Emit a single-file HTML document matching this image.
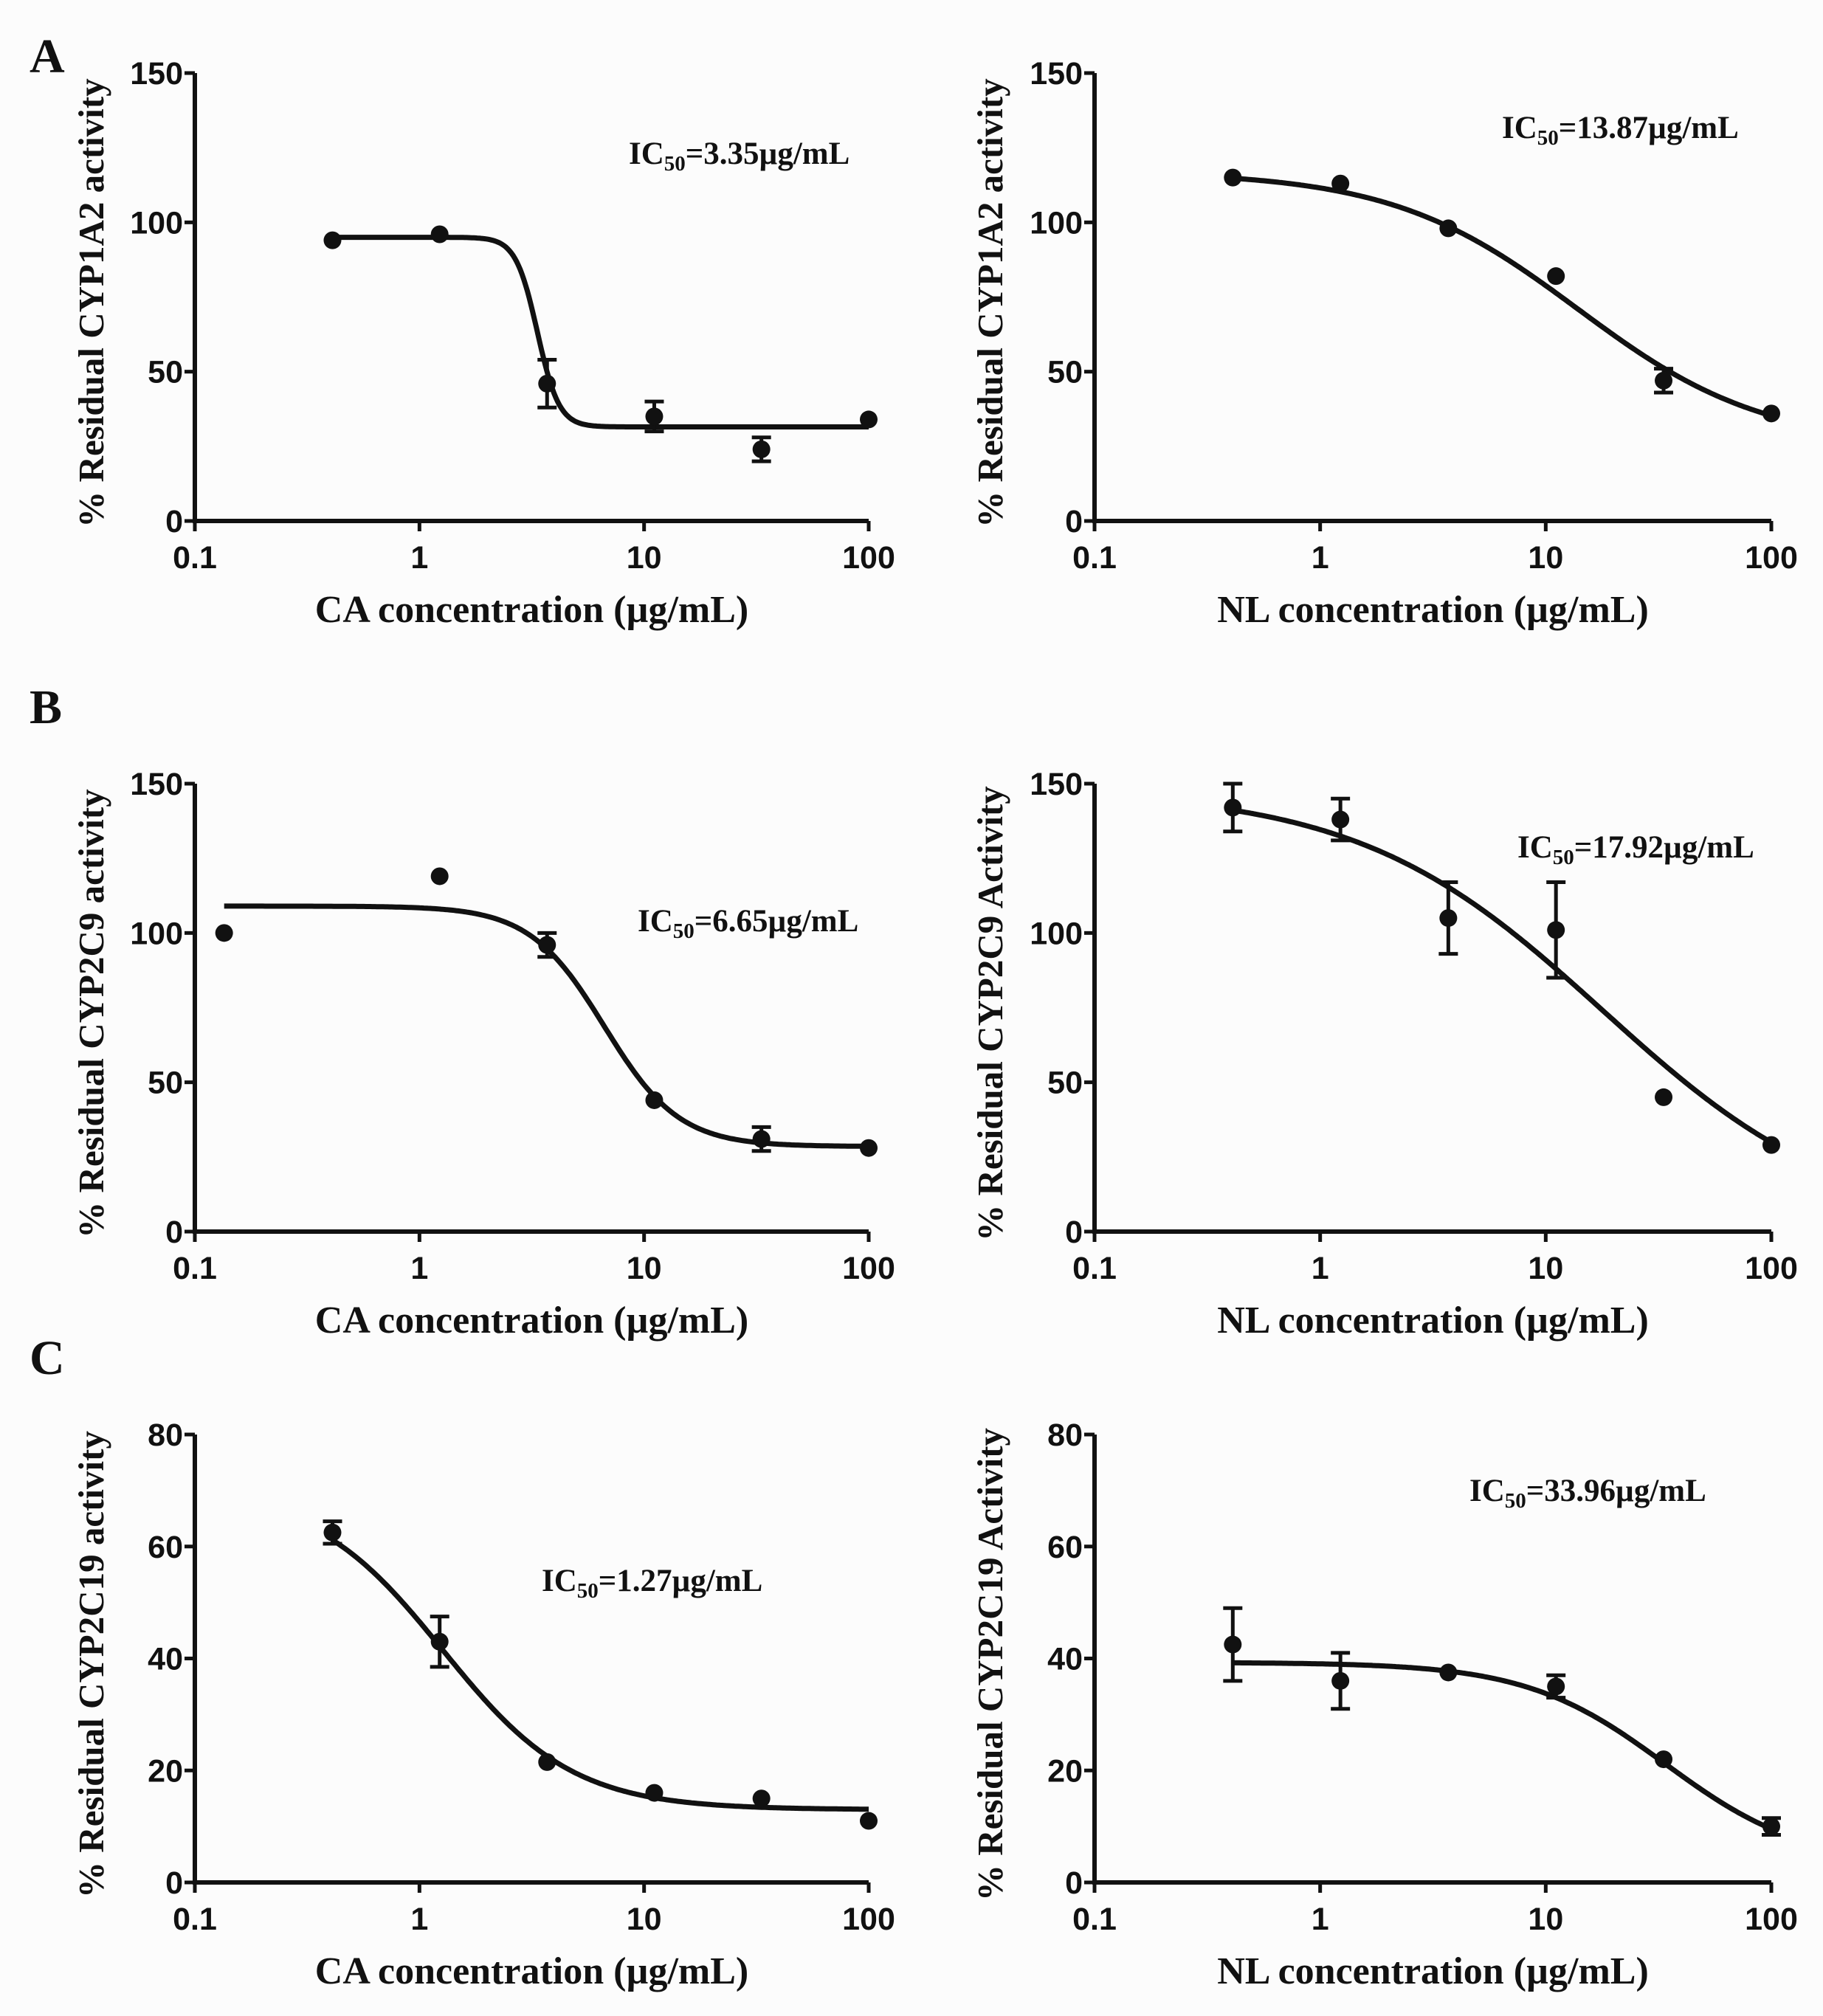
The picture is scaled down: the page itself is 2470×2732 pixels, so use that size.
<!DOCTYPE html>
<html><head><meta charset="utf-8"><style>
html,body{margin:0;padding:0;background:#fff}
svg{display:block}
text{fill:#111}
.tick{font-family:"Liberation Sans",sans-serif;font-weight:bold;font-size:43px}
.ttl{font-family:"Liberation Serif",serif;font-weight:bold;font-size:52px}
.ytl{font-family:"Liberation Serif",serif;font-weight:bold;font-size:49px}
.ic{font-family:"Liberation Serif",serif;font-weight:bold;font-size:43px}
.let{font-family:"Liberation Serif",serif;font-weight:bold;font-size:66px}
</style></head><body>
<svg id="fig" width="2470" height="2732" viewBox="0 0 2470 2732" xmlns="http://www.w3.org/2000/svg">
<rect width="2470" height="2732" fill="#fcfcfc"/>
</svg>
<script>
// ---- data ----
const xConc = [0.41, 1.23, 3.7, 11.1, 33.3, 100];
const xConcB1 = [0.135, 1.23, 3.7, 11.1, 33.3, 100];
const yA1 = [94, 96, 46, 35, 24, 34];
const eA1 = [0, 0, 8, 5, 4, 0];
const yA2 = [115, 113, 98, 82, 47, 36];
const eA2 = [0, 0, 0, 0, 4, 0];
const yB1 = [100, 119, 96, 44, 31, 28];
const eB1 = [0, 0, 4, 0, 4, 0];
const yB2 = [142, 138, 105, 101, 45, 29];
const eB2 = [8, 7, 12, 16, 0, 0];
const yC1 = [62.5, 43, 21.5, 16, 15, 11];
const eC1 = [2, 4.5, 0, 0, 0, 0];
const yC2 = [42.5, 36, 37.5, 35, 22, 10];
const eC2 = [6.5, 5, 0, 2, 0, 1.5];
// fit params: [top, bottom, ic50, hill]
const fitA1 = [95, 31.5, 3.35, 9];
const fitA2 = [117, 25, 13.87, 1.05];
const fitB1 = [109, 28.5, 6.65, 2.6];
const fitB2 = [148, 0, 17.92, 0.8];
const fitC1 = [70, 13, 1.27, 1.5];
const fitC2 = [39.3, 3, 33.96, 1.4];
const xTicks = [0.1, 1, 10, 100];
const xTickLabels = ["0.1", "1", "10", "100"];
const yTicks150 = [0, 50, 100, 150];
const yTicks80 = [0, 20, 40, 60, 80];

const NS = "http://www.w3.org/2000/svg";
const svg = document.getElementById("fig");
function el(tag, attrs, parent, txt) {
  const e = document.createElementNS(NS, tag);
  for (const k in attrs) e.setAttribute(k, attrs[k]);
  if (txt !== undefined) e.textContent = txt;
  (parent || svg).appendChild(e);
  return e;
}
function panel(cfg) {
  const g = el("g", {});
  
  
  const L = cfg.x0, R = cfg.x1, T = cfg.yTop, B = cfg.yBot;
  const sx = v => L + (Math.log10(v) + 1) / 3 * (R - L);
  const sy = v => B - v / cfg.ymax * (B - T);
  const ax = el("path", {d: `M${L} ${T} L${L} ${B} L${R} ${B}`, stroke: "#111", "stroke-width": 6, fill: "none"}, g);
  
  
  cfg.yticks.forEach(v => {
    el("line", {x1: L - 14, x2: L, y1: sy(v), y2: sy(v), stroke: "#111", "stroke-width": 5}, g);
    const t = el("text", {x: L - 16, y: sy(v) + 15, "text-anchor": "end", class: "tick"}, g, String(v));
    
    
  });
  xTicks.forEach((v, i) => {
    el("line", {x1: sx(v), x2: sx(v), y1: B, y2: B + 14, stroke: "#111", "stroke-width": 5}, g);
    const t = el("text", {x: sx(v), y: B + 64, "text-anchor": "middle", class: "tick"}, g, xTickLabels[i]);
    
    
  });
  const xt = el("text", {x: (L + R) / 2, y: B + 137, "text-anchor": "middle", class: "ttl"}, g, cfg.xtitle);
  
  
  const yt = el("text", {transform: `translate(${cfg.ytx},${(T + B) / 2 + 8}) rotate(-90)`, "text-anchor": "middle", class: "ytl"}, g, cfg.ytitle);
  
  
  const ic = el("text", {x: cfg.icx, y: cfg.icy, class: "ic"}, g);
  
  
  el("tspan", {}, ic, "IC");
  el("tspan", {"font-size": "29px", dy: 9}, ic, "50");
  el("tspan", {dy: -9}, ic, cfg.ic);
  const [top, bot, ic50, h] = cfg.fit;
  const xs = cfg.xs;
  const lo = Math.log10(xs[0]), hi = Math.log10(xs[xs.length - 1]);
  let d = "";
  for (let i = 0; i <= 300; i++) {
    const lx = lo + (hi - lo) * i / 300, x = Math.pow(10, lx);
    const y = bot + (top - bot) / (1 + Math.pow(x / ic50, h));
    d += (i ? "L" : "M") + sx(x).toFixed(1) + " " + sy(y).toFixed(1);
  }
  const c = el("path", {d, stroke: "#111", "stroke-width": 7, fill: "none"}, g);
  
  
  xs.forEach((x, i) => {
    const px = sx(x), py = sy(cfg.ys[i]), e = cfg.es[i];
    if (e > 0) {
      const eb = el("path", {d: `M${px} ${sy(cfg.ys[i] + e)} L${px} ${sy(cfg.ys[i] - e)} M${px - 13} ${sy(cfg.ys[i] + e)} L${px + 13} ${sy(cfg.ys[i] + e)} M${px - 13} ${sy(cfg.ys[i] - e)} L${px + 13} ${sy(cfg.ys[i] - e)}`, stroke: "#111", "stroke-width": 5, fill: "none"}, g);
      
      
    }
    const p = el("circle", {cx: px, cy: py, r: 12, fill: "#111"}, g);
    
    
  });
}
const LX0 = 264, LX1 = 1177, RX0 = 1483, RX1 = 2400;
panel({name: "panel-a-ca", x0: LX0, x1: LX1, yTop: 99, yBot: 706, ymax: 150, yticks: yTicks150, xs: xConc, ys: yA1, es: eA1, fit: fitA1,
  xtitle: "CA concentration (µg/mL)", ytitle: "% Residual CYP1A2 activity", ytx: 140, icx: 852, icy: 222, ic: "=3.35µg/mL"});
panel({name: "panel-a-nl", x0: RX0, x1: RX1, yTop: 99, yBot: 706, ymax: 150, yticks: yTicks150, xs: xConc, ys: yA2, es: eA2, fit: fitA2,
  xtitle: "NL concentration (µg/mL)", ytitle: "% Residual CYP1A2 activity", ytx: 1358, icx: 2035, icy: 187, ic: "=13.87µg/mL"});
panel({name: "panel-b-ca", x0: LX0, x1: LX1, yTop: 1062, yBot: 1669, ymax: 150, yticks: yTicks150, xs: xConcB1, ys: yB1, es: eB1, fit: fitB1,
  xtitle: "CA concentration (µg/mL)", ytitle: "% Residual CYP2C9 activity", ytx: 140, icx: 864, icy: 1262, ic: "=6.65µg/mL"});
panel({name: "panel-b-nl", x0: RX0, x1: RX1, yTop: 1062, yBot: 1669, ymax: 150, yticks: yTicks150, xs: xConc, ys: yB2, es: eB2, fit: fitB2,
  xtitle: "NL concentration (µg/mL)", ytitle: "% Residual CYP2C9 Activity", ytx: 1358, icx: 2056, icy: 1162, ic: "=17.92µg/mL"});
panel({name: "panel-c-ca", x0: LX0, x1: LX1, yTop: 1944, yBot: 2551, ymax: 80, yticks: yTicks80, xs: xConc, ys: yC1, es: eC1, fit: fitC1,
  xtitle: "CA concentration (µg/mL)", ytitle: "% Residual CYP2C19 activity", ytx: 140, icx: 734, icy: 2156, ic: "=1.27µg/mL"});
panel({name: "panel-c-nl", x0: RX0, x1: RX1, yTop: 1944, yBot: 2551, ymax: 80, yticks: yTicks80, xs: xConc, ys: yC2, es: eC2, fit: fitC2,
  xtitle: "NL concentration (µg/mL)", ytitle: "% Residual CYP2C19 Activity", ytx: 1358, icx: 1991, icy: 2034, ic: "=33.96µg/mL"});
[["A", 98], ["B", 980], ["C", 1862]].forEach(([s, y]) => {
  const t = el("text", {x: 40, y: y, class: "let"}, svg, s);
  
  
});
</script>
</body></html>
